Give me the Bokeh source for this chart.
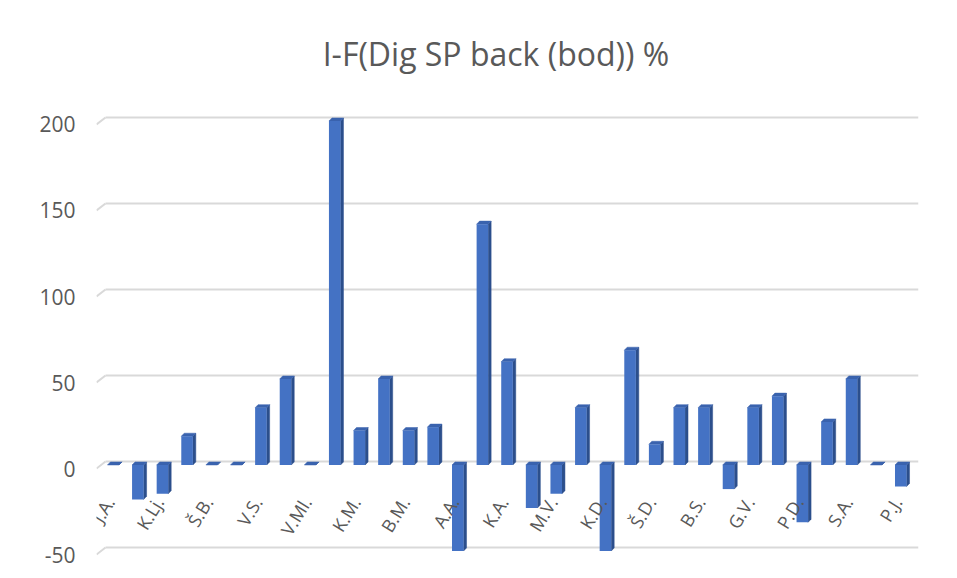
from bokeh.plotting import figure
from bokeh.models import Range1d, FixedTicker, ColumnDataSource, LabelSet
from bokeh.core.properties import value
from bokeh.embed import file_html
from bokeh.resources import INLINE

# ---- data ----
title_text = "I-F(Dig SP back (bod)) %"
values = [0, -20, -16.7, 16.7, 0, 0, 33.3, 50, 0, 200,
          20, 50, 20, 22, -50, 140, 60, -25, -16.7, 33.3,
          -50, 66.7, 12, 33.3, 33.3, -14, 33.3, 40, -33.3, 25,
          50, 0, -12.5]
labels = ["J.A.", "K.Lj.", "Š.B.", "V.S.", "V.Ml.", "K.M.", "B.M.", "A.A.", "K.A.",
          "M.V.", "K.D.", "Š.D.", "B.S.", "G.V.", "P.D.", "S.A.", "P.J."]
label_step = 2
y_ticks = [-50, 0, 50, 100, 150, 200]

# ---- geometry (3D look) ----
FLOOR_DX, FLOOR_DY = 0.366, 4.07     # back wall offset
MID_DX, MID_DY = 0.18, 2.03          # bar front plane offset
BAR_W = 0.47
BAR_DX, BAR_DY = 0.12, 1.8

FRONT = "#4472C4"
SIDE = "#2C4F8C"
TOP = "#3A63AE"
GRID = "#D9D9D9"
TXT = "#595959"
FONT = "Open Sans"
LABEL_ANGLE = 45  # value that rendered as a diagonal label in this SVG backend

p = figure(width=957, height=578, output_backend="svg", toolbar_location=None,
           x_range=Range1d(-0.5, 32.9), y_range=Range1d(-63.95, 272.09),
           min_border_left=96, min_border_right=39, min_border_top=0, min_border_bottom=0)
p.outline_line_color = None
p.xgrid.visible = False
p.ygrid.visible = False
p.xaxis.visible = False

ya = p.yaxis[0]
ya.ticker = FixedTicker(ticks=y_ticks)
ya.major_label_overrides = {t: str(t) for t in y_ticks}
ya.axis_line_color = None
ya.major_tick_line_color = None
ya.minor_tick_line_color = None
ya.major_tick_out = 0
ya.major_label_standoff = 21
ya.major_label_text_font = FONT
ya.major_label_text_font_size = "21px"
ya.major_label_text_color = TXT

# gridlines: slanted part + back-wall horizontal part
x_left = -0.5
x_right = 32.9
p.segment(x0=[x_left] * len(y_ticks), y0=y_ticks,
          x1=[x_left + FLOOR_DX] * len(y_ticks), y1=[t + FLOOR_DY for t in y_ticks],
          line_color=GRID, line_width=2)
p.segment(x0=[x_left + FLOOR_DX] * len(y_ticks), y0=[t + FLOOR_DY for t in y_ticks],
          x1=[x_right] * len(y_ticks), y1=[t + FLOOR_DY for t in y_ticks],
          line_color=GRID, line_width=2)

# bars
xs = list(range(len(values)))
left = [i + MID_DX - BAR_W / 2 for i in xs]
right = [i + MID_DX + BAR_W / 2 for i in xs]
top = [max(v, 0) + MID_DY for v in values]
bottom = [min(v, 0) + MID_DY for v in values]

side_x = [[r, r + BAR_DX, r + BAR_DX, r] for r in right]
side_y = [[b, b + BAR_DY, t + BAR_DY, t] for b, t in zip(bottom, top)]
top_x = [[l, r, r + BAR_DX, l + BAR_DX] for l, r in zip(left, right)]
top_y = [[t, t, t + BAR_DY, t + BAR_DY] for t in top]

p.patches(xs=side_x, ys=side_y, fill_color=SIDE, line_color=SIDE, line_width=0.5)
p.patches(xs=top_x, ys=top_y, fill_color=TOP, line_color=TOP, line_width=0.5)
p.quad(left=left, right=right, top=top, bottom=bottom, fill_color=FRONT, line_color=None)

# category labels (every second category), rotated at the zero line
lab_src = ColumnDataSource(dict(x=[i * label_step for i in range(len(labels))],
                                y=[0] * len(labels), text=labels))
p.add_layout(LabelSet(x="x", y="y", text="text", source=lab_src,
                      angle=LABEL_ANGLE, angle_units="rad", text_align="right",
                      text_baseline="middle", x_offset=1, y_offset=-30,
                      text_font=value(FONT), text_font_size="18px", text_color=TXT))

# title
p.text(x=[15.73], y=[241], text=[title_text], text_align="center", text_baseline="middle",
       text_font=value(FONT), text_font_size="32px", text_color=TXT)

open("out.html", "w").write(file_html(p, INLINE))
